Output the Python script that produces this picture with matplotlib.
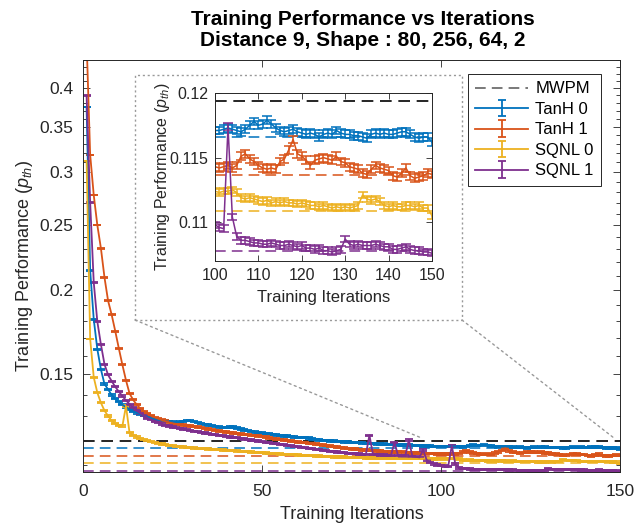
import numpy as np
import matplotlib
matplotlib.use("Agg")
import matplotlib.pyplot as plt
from matplotlib.ticker import FixedLocator, NullFormatter
from matplotlib.patches import Rectangle, ConnectionPatch
from matplotlib.lines import Line2D

plt.rcParams['font.family'] = ['Liberation Sans', 'DejaVu Sans']
plt.rcParams['mathtext.fontset'] = 'custom'
plt.rcParams['mathtext.it'] = 'Liberation Sans:italic'
plt.rcParams['mathtext.rm'] = 'Liberation Sans'

iterations = np.arange(1, 151)

tanh0 = [
    0.3744, 0.2140, 0.1811, 0.1635, 0.1526, 0.1451, 0.1425, 0.1398, 0.1380, 0.1366,
    0.1352, 0.1341, 0.1331, 0.1322, 0.1315, 0.1308, 0.1302, 0.1297, 0.1292, 0.1288,
    0.1284, 0.1281, 0.1278, 0.1276, 0.1274, 0.1273, 0.1274, 0.1277, 0.1280, 0.1280,
    0.1276, 0.1271, 0.1267, 0.1264, 0.1261, 0.1259, 0.1256, 0.1253, 0.1251, 0.1250,
    0.1252, 0.1253, 0.1249, 0.1244, 0.1240, 0.1237, 0.1234, 0.1231, 0.1229, 0.1227,
    0.1225, 0.1223, 0.1221, 0.1219, 0.1217, 0.1215, 0.1214, 0.1212, 0.1210, 0.1208,
    0.1208, 0.1209, 0.1207, 0.1203, 0.1200, 0.1198, 0.1197, 0.1196, 0.1195, 0.1194,
    0.1193, 0.1192, 0.1191, 0.1190, 0.1189, 0.1188, 0.1187, 0.1186, 0.1185, 0.1184,
    0.1183, 0.1182, 0.1182, 0.1181, 0.1180, 0.1180, 0.1179, 0.1178, 0.1178, 0.1177,
    0.1177, 0.1176, 0.1176, 0.1175, 0.1174, 0.1174, 0.1173, 0.1172, 0.1172,
    0.1171, 0.1171, 0.1172, 0.1173, 0.1172, 0.1171, 0.1170, 0.1172, 0.1175, 0.1178, 0.1175,
    0.1176, 0.1179, 0.1176, 0.1173, 0.1171, 0.1170, 0.1171, 0.1172, 0.1170, 0.1169,
    0.1168, 0.1169, 0.1168, 0.1166, 0.1168, 0.1169, 0.1168, 0.1171, 0.1169, 0.1168,
    0.1168, 0.1167, 0.1167, 0.1166, 0.1165, 0.1168, 0.1169, 0.1168, 0.1169, 0.1168,
    0.1168, 0.1169, 0.1170, 0.1170, 0.1168, 0.1166, 0.1165, 0.1166, 0.1166, 0.1162,
]

tanh1 = [
    0.4700, 0.3180, 0.2770, 0.2500, 0.2310, 0.2090, 0.1930, 0.1840, 0.1740, 0.1640,
    0.1550, 0.1470, 0.1405, 0.1375, 0.1352, 0.1335, 0.1322, 0.1311, 0.1302, 0.1295,
    0.1289, 0.1283, 0.1278, 0.1273, 0.1269, 0.1266, 0.1263, 0.1261, 0.1259, 0.1257,
    0.1255, 0.1253, 0.1250, 0.1247, 0.1244, 0.1241, 0.1238, 0.1236, 0.1234, 0.1232,
    0.1230, 0.1228, 0.1226, 0.1224, 0.1222, 0.1220, 0.1218, 0.1216, 0.1214, 0.1212,
    0.1210, 0.1207, 0.1205, 0.1203, 0.1201, 0.1199, 0.1197, 0.1195, 0.1193, 0.1191,
    0.1189, 0.1187, 0.1185, 0.1183, 0.1181, 0.1179, 0.1177, 0.1175, 0.1173, 0.1171,
    0.1169, 0.1168, 0.1166, 0.1164, 0.1162, 0.1161, 0.1160, 0.1158, 0.1157, 0.1156,
    0.1155, 0.1154, 0.1153, 0.1152, 0.1151, 0.1151, 0.1150, 0.1149, 0.1152, 0.1148,
    0.1147, 0.1147, 0.1146, 0.1146, 0.1145, 0.1145, 0.1144, 0.1144, 0.1143,
    0.1143, 0.1142, 0.1143, 0.1144, 0.1142, 0.1144, 0.1151, 0.1153, 0.1149, 0.1147, 0.1144,
    0.1142, 0.1141, 0.1142, 0.1141, 0.1147, 0.1149, 0.1156, 0.1164, 0.1153, 0.1151,
    0.1148, 0.1144, 0.1148, 0.1149, 0.1150, 0.1149, 0.1148, 0.1151, 0.1147, 0.1146,
    0.1143, 0.1142, 0.1141, 0.1138, 0.1137, 0.1141, 0.1144, 0.1142, 0.1141, 0.1140,
    0.1136, 0.1135, 0.1138, 0.1142, 0.1136, 0.1134, 0.1135, 0.1136, 0.1138, 0.1137,
]

sqnl0 = [
    0.3115, 0.1693, 0.1485, 0.1409, 0.1361, 0.1325, 0.1301, 0.1280, 0.1269, 0.1260,
    0.1257, 0.1346, 0.1228, 0.1218, 0.1211, 0.1205, 0.1200, 0.1196, 0.1192, 0.1188,
    0.1185, 0.1182, 0.1180, 0.1177, 0.1175, 0.1173, 0.1171, 0.1170, 0.1168, 0.1167,
    0.1166, 0.1165, 0.1164, 0.1163, 0.1162, 0.1161, 0.1160, 0.1159, 0.1158, 0.1157,
    0.1156, 0.1155, 0.1154, 0.1153, 0.1152, 0.1151, 0.1150, 0.1149, 0.1148, 0.1147,
    0.1146, 0.1145, 0.1144, 0.1143, 0.1142, 0.1141, 0.1140, 0.1140, 0.1139, 0.1138,
    0.1137, 0.1136, 0.1136, 0.1135, 0.1134, 0.1134, 0.1133, 0.1132, 0.1132, 0.1131,
    0.1131, 0.1130, 0.1130, 0.1129, 0.1129, 0.1128, 0.1128, 0.1128, 0.1127, 0.1127,
    0.1127, 0.1126, 0.1126, 0.1126, 0.1126, 0.1125, 0.1125, 0.1125, 0.1125, 0.1125,
    0.1124, 0.1124, 0.1124, 0.1124, 0.1124, 0.1124, 0.1124, 0.1123, 0.1123,
    0.1124, 0.1123, 0.1124, 0.1124, 0.1125, 0.1123, 0.1119, 0.1118, 0.1119, 0.1118, 0.1117,
    0.1116, 0.1117, 0.1115, 0.1116, 0.1115, 0.1116, 0.1115, 0.1115, 0.1114, 0.1115,
    0.1114, 0.1113, 0.1113, 0.1112, 0.1113, 0.1112, 0.1111, 0.1112, 0.1111, 0.1112,
    0.1111, 0.1112, 0.1113, 0.1121, 0.1118, 0.1117, 0.1118, 0.1116, 0.1113, 0.1112,
    0.1113, 0.1112, 0.1112, 0.1113, 0.1113, 0.1112, 0.1113, 0.1111, 0.1111, 0.1105,
]

sqnl1 = [
    0.3896, 0.2700, 0.2054, 0.1797, 0.1662, 0.1553, 0.1497, 0.1466, 0.1438, 0.1414,
    0.1393, 0.1372, 0.1355, 0.1340, 0.1326, 0.1313, 0.1302, 0.1292, 0.1284, 0.1277,
    0.1271, 0.1266, 0.1261, 0.1257, 0.1253, 0.1250, 0.1247, 0.1244, 0.1241, 0.1238,
    0.1235, 0.1232, 0.1230, 0.1227, 0.1225, 0.1222, 0.1220, 0.1218, 0.1216, 0.1214,
    0.1211, 0.1209, 0.1207, 0.1205, 0.1202, 0.1200, 0.1198, 0.1196, 0.1194, 0.1192,
    0.1189, 0.1187, 0.1185, 0.1183, 0.1181, 0.1179, 0.1177, 0.1175, 0.1173, 0.1171,
    0.1169, 0.1167, 0.1165, 0.1163, 0.1161, 0.1159, 0.1157, 0.1155, 0.1153, 0.1151,
    0.1150, 0.1148, 0.1147, 0.1145, 0.1144, 0.1143, 0.1142, 0.1141, 0.1140, 0.1218,
    0.1140, 0.1139, 0.1138, 0.1138, 0.1137, 0.1136, 0.1189, 0.1135, 0.1134, 0.1134,
    0.1198, 0.1133, 0.1131, 0.1129, 0.1158, 0.1119, 0.1110, 0.1104, 0.1100,
    0.1098, 0.1096, 0.1095, 0.1174, 0.1104, 0.1089, 0.1086, 0.1086, 0.1085, 0.1084, 0.1084,
    0.1083, 0.1083, 0.1084, 0.1083, 0.1082, 0.1082, 0.1083, 0.1082, 0.1081, 0.1082,
    0.1080, 0.1080, 0.1079, 0.1080, 0.1078, 0.1078, 0.1077, 0.1078, 0.1079, 0.1087,
    0.1083, 0.1082, 0.1083, 0.1082, 0.1082, 0.1082, 0.1083, 0.1082, 0.1081, 0.1081,
    0.1079, 0.1079, 0.1080, 0.1081, 0.1079, 0.1078, 0.1078, 0.1077, 0.1077, 0.1076,
]

# one-sided error (std) per network
errors = {"TanH 0": 0.0003, "TanH 1": 0.0003, "SQNL 0": 0.00025, "SQNL 1": 0.00025}

mwpm = 0.1194
# final threshold level reached by each network
levels = {"TanH 0": 0.11656, "TanH 1": 0.11362, "SQNL 0": 0.11088, "SQNL 1": 0.10778}

names = ["TanH 0", "TanH 1", "SQNL 0", "SQNL 1"]
curves = [tanh0, tanh1, sqnl0, sqnl1]
colors = ["#0072BD", "#D95319", "#EDB120", "#7E2F8E"]

major_y = [0.15, 0.2, 0.25, 0.3, 0.35, 0.4]
minor_y = [round(0.11 + 0.01 * k, 2) for k in range(34)]

text_col = "#262626"

fig = plt.figure(figsize=(6.41, 5.27), dpi=100)
ax = fig.add_axes([0.1295, 0.1044, 0.8378, 0.7818])


def draw(a, mask, cap, lw):
    a.axhline(mwpm, color="black", ls=(0, (7, 4)), lw=1.2, zorder=1)
    for n, c in zip(names, colors):
        a.axhline(levels[n], color=c, ls=(0, (7, 4)), lw=1.1, zorder=1)
    hs = []
    for n, y, c in zip(names, curves, colors):
        y = np.asarray(y)
        h = a.errorbar(iterations[mask], y[mask], yerr=errors[n], color=c,
                       lw=lw, elinewidth=lw, capsize=cap, capthick=lw,
                       label=n, zorder=2)
        hs.append(h)
    return hs


handles = draw(ax, np.ones(150, dtype=bool), 2.7, 1.3)

ax.set_yscale("log")
ax.set_xlim(0, 150)
ax.set_ylim(0.1074, 0.44)
ax.set_xticks([0, 50, 100, 150])
ax.yaxis.set_major_locator(FixedLocator(major_y))
ax.set_yticklabels([f"{v:g}" for v in major_y])
ax.yaxis.set_minor_locator(FixedLocator([v for v in minor_y if v not in major_y]))
ax.yaxis.set_minor_formatter(NullFormatter())
ax.xaxis.set_minor_locator(FixedLocator([]))
ax.tick_params(which="both", direction="in", top=True, right=True,
               colors=text_col, labelsize=12.5, width=0.6)
ax.tick_params(which="major", length=5)
ax.tick_params(which="minor", length=3)
ax.tick_params(axis="x", pad=9)
ax.tick_params(axis="y", pad=7)
for s in ax.spines.values():
    s.set_color(text_col)
    s.set_linewidth(0.7)

ax.set_xlabel("Training Iterations", fontsize=13, color=text_col, labelpad=5)
ax.set_ylabel("Training Performance ($p_{th}$)", fontsize=13, color=text_col, labelpad=3)

mwpm_handle = Line2D([], [], color="#555555", ls=(0, (7, 4)), lw=1.1)
leg = ax.legend([mwpm_handle] + handles, ["MWPM"] + names, loc="upper right",
                bbox_to_anchor=(0.9646, 0.966), borderaxespad=0, fontsize=12,
                fancybox=False, framealpha=1, edgecolor=text_col, handlelength=3.2,
                labelspacing=0.33, borderpad=0.45, handletextpad=0.4)
leg.get_frame().set_linewidth(0.7)

fig.text(0.566, 0.981, "Training Performance vs Iterations\nDistance 9, Shape : 80, 256, 64, 2",
         ha="center", va="top", fontsize=15, fontweight="bold", color="black",
         linespacing=1.1)

# zoomed view of the last 50 iterations
ins = fig.add_axes([0.3354, 0.5047, 0.3385, 0.3188])
draw(ins, iterations >= 100, 3.6, 1.1)
ins.set_xlim(100, 150)
ins.set_ylim(0.107, 0.12)
ins.set_xticks([100, 110, 120, 130, 140, 150])
ins.set_yticks([0.11, 0.115, 0.12])
ins.set_yticklabels(["0.11", "0.115", "0.12"])
ins.tick_params(direction="in", top=True, right=True, colors=text_col,
                labelsize=11.5, length=4, width=0.6, pad=5)
for s in ins.spines.values():
    s.set_color(text_col)
    s.set_linewidth(0.7)
ins.set_xlabel("Training Iterations", fontsize=12, color=text_col, labelpad=5)
ins.set_ylabel("Training Performance ($p_{th}$)", fontsize=11.5, color=text_col, labelpad=-2)

box = Rectangle((0.2106, 0.3928), 0.5101, 0.4649, transform=fig.transFigure,
                fill=False, ls=(0, (1.5, 2)), ec="#999999", lw=1.0)
fig.patches.append(box)
for fx, dx in [(0.2106, 94), (0.7207, 148)]:
    con = ConnectionPatch(xyA=(fx, 0.3928), coordsA=fig.transFigure,
                          xyB=(dx, 0.121), coordsB=ax.transData,
                          ls=(0, (1.5, 2.5)), color="#999999", lw=1.0)
    fig.add_artist(con)

fig.savefig("out.png", dpi=100)
